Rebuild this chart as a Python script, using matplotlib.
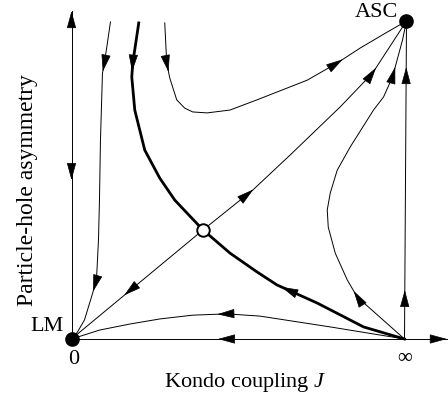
import numpy as np
import matplotlib.pyplot as plt

plt.rcParams['font.family'] = ['Liberation Serif', 'DejaVu Serif']
plt.rcParams['mathtext.fontset'] = 'custom'
plt.rcParams['mathtext.rm'] = 'Liberation Serif'
plt.rcParams['mathtext.it'] = 'Liberation Serif:italic'

# J axis is compactified to [0, 1] (1 = infinity), asymmetry to [0, 1]
LM = (0.0, 0.0)
INF = (1.0, 0.0)
ASC = (1.006, 1.0)
FP = (0.395, 0.343)

# flow lines, each listed in the direction of the RG flow
sep_top_x = [0.202, 0.184, 0.181, 0.190, 0.220, 0.265, 0.310, 0.355, 0.395]
sep_top_y = [0.994, 0.868, 0.824, 0.720, 0.594, 0.506, 0.437, 0.387, 0.343]
sep_bot_x = [1.000, 0.877, 0.738, 0.617, 0.557, 0.476, 0.395]
sep_bot_y = [0.000, 0.038, 0.113, 0.170, 0.211, 0.270, 0.343]

diag_lo_x = [0.395, 0.0]
diag_lo_y = [0.343, 0.0]
diag_hi_x = [0.395, 0.545, 0.657, 0.807, 0.904, 1.006]
diag_hi_y = [0.343, 0.469, 0.579, 0.730, 0.836, 1.000]

left_x = [0.117, 0.099, 0.093, 0.087, 0.084, 0.081, 0.075, 0.060, 0.039, 0.018, 0.0]
left_y = [0.997, 0.868, 0.836, 0.626, 0.437, 0.311, 0.186, 0.132, 0.060, 0.022, 0.0]

top_x = [0.280, 0.286, 0.295, 0.316, 0.340, 0.364, 0.407, 0.476, 0.557, 0.708,
         0.798, 0.867, 0.943, 1.006]
top_y = [0.994, 0.868, 0.821, 0.752, 0.726, 0.714, 0.711, 0.720, 0.752, 0.814,
         0.868, 0.915, 0.962, 1.000]

bulge_x = [1.000, 0.858, 0.828, 0.792, 0.771, 0.768, 0.777, 0.798, 0.837, 0.907,
           0.937, 0.964, 0.994, 1.006]
bulge_y = [0.000, 0.132, 0.186, 0.270, 0.352, 0.406, 0.459, 0.531, 0.604, 0.720,
           0.761, 0.824, 0.940, 1.000]

vert_x = [1.000, 1.006]
vert_y = [0.000, 1.000]

bottom_x = [1.000, 0.777, 0.566, 0.467, 0.364, 0.265, 0.175, 0.084, 0.0]
bottom_y = [0.000, 0.038, 0.072, 0.079, 0.075, 0.063, 0.047, 0.028, 0.0]

axis_x_end = 1.127
axis_y_end = 1.031

PX_W, PX_H = 333, 318


def arrow_at(ax, xs, ys, frac):
    xs = np.asarray(xs, float)
    ys = np.asarray(ys, float)
    seg = np.hypot(np.diff(xs) * PX_W, np.diff(ys) * PX_H)
    s = np.concatenate([[0], np.cumsum(seg)])
    st = frac * s[-1]
    tip = (np.interp(st, s, xs), np.interp(st, s, ys))
    tail = (np.interp(st - 8, s, xs), np.interp(st - 8, s, ys))
    ax.annotate('', xy=tip, xytext=tail, annotation_clip=False,
                arrowprops=dict(arrowstyle='-|>,head_length=1.1,head_width=0.3',
                                mutation_scale=10, color='k', lw=0.5,
                                shrinkA=0, shrinkB=0))


fig = plt.figure(figsize=(4.48, 3.98), dpi=100)
ax = fig.add_axes([71.5 / 448, 59 / 398, 333 / 448, 318 / 398])
ax.set_xlim(0, 1)
ax.set_ylim(0, 1)
ax.axis('off')

thin = dict(color='k', lw=0.7, clip_on=False)
thick = dict(color='k', lw=2.0, clip_on=False)

# axes drawn as flow lines with arrowheads
ax.plot([0, axis_x_end], [0, 0], **thin)
ax.plot([0, 0], [0, axis_y_end], **thin)
arrow_at(ax, [0, axis_x_end], [0, 0], 1.0)
arrow_at(ax, [0, 0], [0, axis_y_end], 1.0)
arrow_at(ax, [0, 0], [axis_y_end, 0], 0.515)
arrow_at(ax, [1, 0], [0, 0], 0.56)

ax.plot(sep_top_x, sep_top_y, **thick)
ax.plot(sep_bot_x, sep_bot_y, **thick)
arrow_at(ax, sep_top_x, sep_top_y, 0.215)
arrow_at(ax, sep_bot_x, sep_bot_y, 0.58)

for xs, ys, fracs in [(diag_lo_x, diag_lo_y, [0.6]),
                      (diag_hi_x, diag_hi_y, [0.22, 0.81]),
                      (left_x, left_y, [0.155, 0.837]),
                      (top_x, top_y, [0.147, 0.778]),
                      (bulge_x, bulge_y, [0.193, 0.87]),
                      (vert_x, vert_y, [0.154, 0.855]),
                      (bottom_x, bottom_y, [0.56])]:
    ax.plot(xs, ys, **thin)
    for f in fracs:
        arrow_at(ax, xs, ys, f)

# fixed points
ax.plot(*LM, 'o', ms=9.5, color='k', clip_on=False, zorder=5)
ax.plot(*ASC, 'o', ms=9.5, color='k', clip_on=False, zorder=5)
ax.plot(*FP, 'o', ms=9, mfc='white', mec='k', mew=1.4, clip_on=False, zorder=5)

fs = 16
ax.text(0.982, 1.028, 'ASC', ha='right', va='center', fontsize=fs)
ax.text(-0.024, 0.038, 'LM', ha='right', va='center', fontsize=fs)
ax.text(0.006, -0.066, '0', ha='center', va='center', fontsize=fs)
ax.text(1.0, -0.062, '\u221e', ha='center', va='center', fontsize=fs - 1)
ax.text(0.52, -0.138, 'Kondo coupling $J$', ha='center', va='center', fontsize=fs)
ax.text(-0.132, 0.469, 'Particle-hole asymmetry', ha='center', va='center',
        rotation=90, fontsize=17)

fig.savefig('out.png', dpi=100)
